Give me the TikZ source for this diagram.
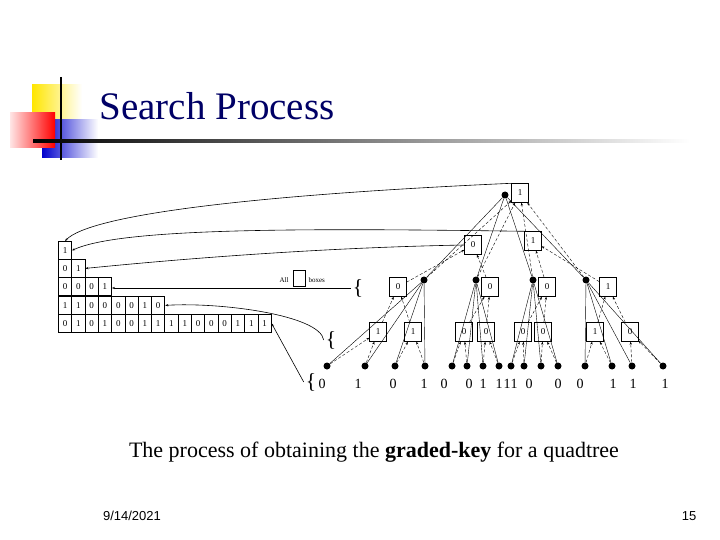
\documentclass[tikz,border=0pt]{standalone}
\usepackage{fontspec}
\setmainfont{Liberation Serif}
\setsansfont{Liberation Sans}
\usetikzlibrary{arrows.meta}
\begin{document}
\begin{tikzpicture}[x=1pt,y=-1pt,
  cell/.style={draw,thick,minimum width=13.3pt,minimum height=18pt,inner sep=0pt,font=\small,anchor=north west},
  qbox/.style={draw,minimum width=17pt,minimum height=19pt,inner sep=0pt,font=\small},
  dot/.style={circle,fill=black,inner sep=0pt,minimum size=7pt},
  sol/.style={thin},
  dsh/.style={thin,densely dashed,-{Stealth[length=3pt]}},
  lnk/.style={semithick,-{Stealth[length=3pt]}},
  lab/.style={font=\fontsize{14}{16}\selectfont}]
\useasboundingbox (0,0) rectangle (720,540);
\fill[white] (0,0) rectangle (720,540);
% logo
\shade[left color=yellow!80!orange,right color=white] (32,85) rectangle (82,120);
\shade[left color=blue!80!black,right color=white] (42,120) rectangle (98,158);
\shade[left color=red!10,right color=red] (10,113) rectangle (55,148);
\draw[line width=2pt] (61,77) -- (61,160);
\shade[left color=black,right color=white] (33,140) rectangle (690,143);
\node[anchor=west,font=\fontsize{39}{41}\selectfont,text=blue!40!black] (title) at (96,106) {Search Process};
% table
\foreach \r/\y/\vals in {1/241/{1},2/259/{0,1},3/277/{0,0,0,1},4/296/{1,1,0,0,0,0,1,0},5/314/{0,1,0,1,0,0,1,1,1,1,0,0,0,1,1,1}}{
  \foreach \v [count=\i] in \vals {
    \node[cell] (c\r-\i) at ({58+(\i-1)*13.3},\y) {\v};
  }
}
% tree
\node[qbox] (b0) at (520,193) {1};
\node[dot] (d0) at (505,195) {};
\node[qbox] (b1) at (473,245) {0};
\node[qbox] (b2) at (533,241) {1};
\foreach \i/\x/\bx/\v in {1/424/398/0,2/476/490/0,3/533/547/0,4/586/608/1}{
  \node[dot] (e\i) at (\x,280) {};
  \node[qbox] (f\i) at (\bx,287) {\v};
}
\foreach \i/\x/\v in {1/378/1,2/413/1,3/464/0,4/486/0,5/523/0,6/543/0,7/595/1,8/630/0}{
  \node[qbox] (g\i) at (\x,332) {\v};
}
\foreach \i/\x/\v/\lx in {1/327/0/322,2/365/1/358,3/395/0/393,4/425/1/424,5/452/0/444,6/467/0/469,7/483/1/483,8/499/1/499,9/511/1/507,10/524/1/514,11/541/0/529,12/558/0/558,13/585/0/580,14/612/1/613,15/632/1/633,16/663/1/665}{
  \node[dot] (l\i) at (\x,366) {};
  \node[lab] (t\i) at (\lx,384) {\v};
}
\foreach \i in {1,...,4}{
  \draw[sol] (d0) -- (e\i);
  \draw[dsh] (e\i) -- (b0);
}
\foreach \i in {1,...,16}{
  \pgfmathtruncatemacro{\p}{int((\i-1)/4)+1}
  \pgfmathtruncatemacro{\q}{int((\i-1)/2)+1}
  \draw[sol] (e\p) -- (l\i);
  \draw[dsh] (l\i) -- (g\q);
}
\foreach \q in {1,...,8}{
  \pgfmathtruncatemacro{\p}{int((\q-1)/2)+1}
  \draw[dsh] (g\q) -- (f\p);
}
\draw[dsh] (f1) -- (b1); \draw[dsh] (f2) -- (b1);
\draw[dsh] (f3) -- (b2); \draw[dsh] (f4) -- (b2);
% braces
\node[font=\fontsize{36}{36}\selectfont,scale=0.6] (br3) at (358,288) {\{};
\node[font=\fontsize{36}{36}\selectfont,scale=0.6] (br4) at (331,340) {\{};
\node[font=\fontsize{36}{36}\selectfont,scale=0.6] (br5) at (311,382) {\{};
% links
\draw[lnk] (b0.north west) .. controls (250,195) and (90,215) .. (c1-1.north);
\draw[lnk] (b2.north west) .. controls (300,228) and (120,228) .. (c1-1.east);
\draw[lnk] (b1.west) .. controls (300,248) and (150,262) .. (c2-2.east);
\draw[lnk] (br3.west) -- (c3-4.east |- br3.west);
\node[font=\scriptsize,anchor=east] (all) at (292,280) {All};
\node[draw,minimum width=12pt,minimum height=16pt,inner sep=0pt] (allb) at (299,278) {};
\node[font=\scriptsize,anchor=west] (boxes) at (305,280) {boxes};
\draw[lnk] (br4.west) .. controls (320,315) and (220,302) .. (c4-8.east);
\draw[lnk] (br5.west) -- (c5-16.east);
% caption
\node[font=\fontsize{22}{24}\selectfont] (cap) at (374,452) {The process of obtaining the \textbf{graded-key} for a quadtree};
\node[font=\sffamily\fontsize{13}{15}\selectfont] (date) at (132,516) {9/14/2021};
\node[font=\sffamily\fontsize{13}{15}\selectfont] (pg) at (689,516) {15};
\end{tikzpicture}
\end{document}
